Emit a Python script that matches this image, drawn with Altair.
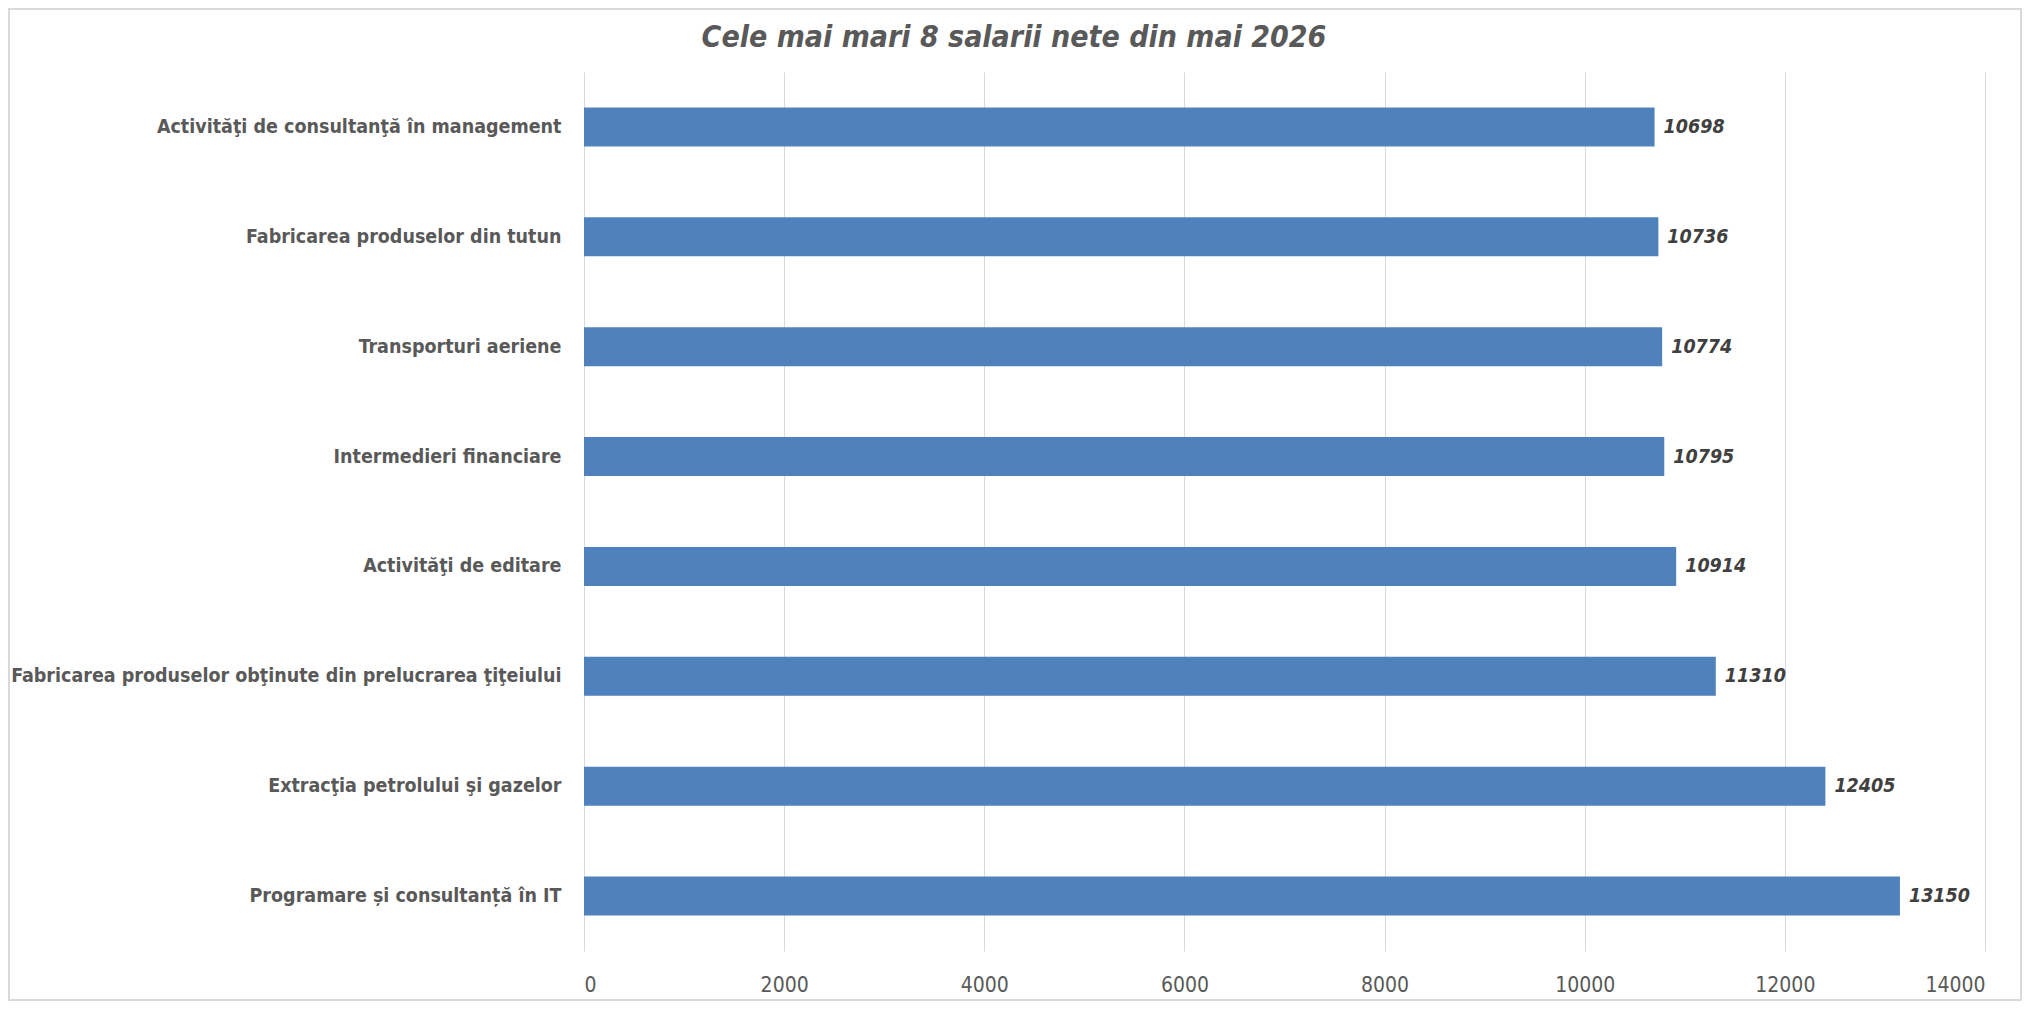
import altair as alt
import pandas as pd

categories = [
    "Activităţi de consultanţă în management",
    "Fabricarea produselor din tutun",
    "Transporturi aeriene",
    "Intermedieri financiare",
    "Activităţi de editare",
    "Fabricarea produselor obţinute din prelucrarea ţiţeiului",
    "Extracţia petrolului şi gazelor",
    "Programare și consultanță în IT",
]
values = [10698, 10736, 10774, 10795, 10914, 11310, 12405, 13150]
x_ticks = [0, 2000, 4000, 6000, 8000, 10000, 12000, 14000]
title_text = "Cele mai mari 8 salarii nete din mai 2026"

df = pd.DataFrame({"cat": categories, "val": values})

FONT = "'DejaVu Sans Condensed', 'Liberation Sans Narrow', 'Roboto', sans-serif"
W, H = 1401, 879

y_enc = alt.Y(
    "cat:N",
    sort=categories,
    title=None,
    scale=alt.Scale(paddingInner=0.645, paddingOuter=0.3225),
    axis=alt.Axis(
        labelFont=FONT, labelFontSize=19.5, labelFontWeight="bold",
        labelColor="#595959", labelLimit=700, labelPadding=23,
        ticks=False, domain=False, grid=False,
    ),
)
x_enc = alt.X(
    "val:Q",
    title=None,
    scale=alt.Scale(domain=[0, 14000], nice=False),
    axis=alt.Axis(
        values=x_ticks, format="d", labelFont=FONT, labelFontSize=21,
        labelColor="#595959", labelPadding=23, ticks=False, domain=False,
        grid=True, gridColor="#D9D9D9", gridWidth=1,
    ),
)

bars = alt.Chart(df).mark_bar(color="#4F81BD").encode(x=x_enc, y=y_enc)
labels = alt.Chart(df).mark_text(
    align="left", baseline="middle", dx=9, font=FONT, fontSize=19.5,
    fontStyle="italic", fontWeight="bold", color="#404040",
).encode(x="val:Q", y=alt.Y("cat:N", sort=categories), text="val:Q")

one = pd.DataFrame({"t": [title_text]})
title = alt.Chart(one).mark_text(
    align="center", baseline="middle", font=FONT, fontSize=30,
    fontStyle="italic", fontWeight="bold", color="#595959",
).encode(x=alt.value(430), y=alt.value(-34), text="t:N")

border = alt.Chart(one).mark_rect(
    fill=None, stroke="#D9D9D9", strokeWidth=2
).encode(
    x=alt.value(-575), x2=alt.value(W + 36),
    y=alt.value(-63), y2=alt.value(H + 49),
)

chart = alt.layer(bars, labels, title, border).properties(
    width=W, height=H,
    autosize=alt.AutoSizeParams(type="none"),
    padding={"left": 576, "top": 64, "right": 37, "bottom": 50},
).configure(background="white").configure_view(stroke=None)

chart.save("out.html", embed_options={"renderer": "svg", "actions": False})
